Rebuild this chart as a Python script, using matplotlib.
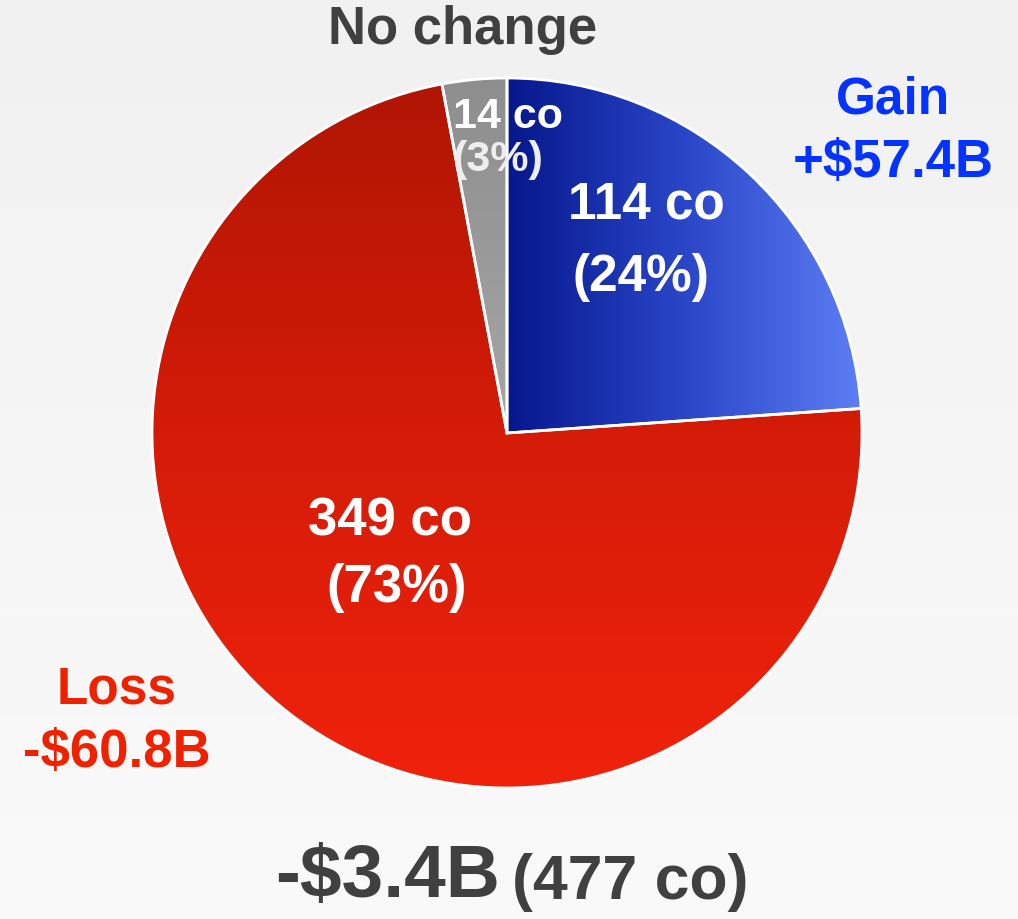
import matplotlib.pyplot as plt
import numpy as np
from matplotlib.colors import LinearSegmentedColormap

# datos
grupos = ["Gain", "Loss", "No change"]
empresas = [114, 349, 14]
montos = [57.4, -60.8, 0.0]

total = sum(empresas)
neto = sum(montos)

plt.rcParams['font.family'] = ['Liberation Sans', 'DejaVu Sans']

W, H = 1018, 920
fig = plt.figure(figsize=(W / 100, H / 100), dpi=100)
ax = fig.add_axes([0, 0, 1, 1])

# fondo gris claro
fondo = np.linspace(0, 1, 256).reshape(-1, 1)
ax.imshow(fondo, cmap=LinearSegmentedColormap.from_list('f', ['#f1f1f1', '#fafafa']),
          extent=(0, W, 0, H), aspect='auto', zorder=0)

cx, cy, r = 507, H - 434, 355
wedges, _ = ax.pie(empresas, center=(cx, cy), radius=r, startangle=90,
                   counterclock=False, frame=True,
                   wedgeprops=dict(edgecolor='white', linewidth=2, facecolor='none'))
ax.set_xlim(0, W)
ax.set_ylim(0, H)
ax.set_aspect('equal')
ax.axis('off')

# degradados de cada porcion
grad_h = np.linspace(0, 1, 256).reshape(1, -1)
grad_v = np.linspace(0, 1, 256).reshape(-1, 1)
colores = [
    ('h', ['#06178c', '#2a46c8', '#5d7ef4']),
    ('v', ['#b01504', '#d41c08', '#f0220c']),
    ('v', ['#8e8e8e', '#a6a6a6', '#cdcdcd']),
]
for w, (d, cols) in zip(wedges, colores):
    cmap = LinearSegmentedColormap.from_list('c', cols)
    if d == 'h':
        im = ax.imshow(grad_h, cmap=cmap, extent=(cx, cx + r, cy - r, cy + r),
                       aspect='auto', zorder=1)
    else:
        im = ax.imshow(grad_v, cmap=cmap, extent=(cx - r, cx + r, cy - r, cy + r),
                       aspect='auto', zorder=1)
    im.set_clip_path(w)
    w.set_zorder(2)


def t(x, y, s, **kw):
    ax.text(x, H - y, s, ha=kw.pop('ha', 'center'), va='center', weight='bold', zorder=3, **kw)


pct = [round(100 * e / total) for e in empresas]

# etiquetas dentro
t(646, 205, f"{empresas[0]} co", color='white', fontsize=37)
t(641, 278, f"({pct[0]}%)", color='white', fontsize=37)
t(390, 522, f"{empresas[1]} co", color='white', fontsize=38)
t(397, 588, f"({pct[1]}%)", color='white', fontsize=38)
t(453, 117, f"{empresas[2]} co", color='white', fontsize=31, ha='left')
t(453, 160, f"({pct[2]}%)", color='#eeeeee', fontsize=31, ha='left')

# etiquetas de fuera
azul = '#0433ff'
rojo = '#ee2200'
gris = '#404040'
t(893, 100, grupos[0], color=azul, fontsize=37)
t(893, 163, f"+${montos[0]:.1f}B", color=azul, fontsize=38)
t(117, 690, grupos[1], color=rojo, fontsize=37)
t(117, 753, f"-${-montos[1]:.1f}B", color=rojo, fontsize=38)

t(463, 30, grupos[2], color=gris, fontsize=38)
t(500, 878, f"-${-neto:.1f}B", color=gris, fontsize=54, ha='right')
t(512, 883, f"({total} co)", color=gris, fontsize=45, ha='left')

plt.savefig('out.png', dpi=100)
